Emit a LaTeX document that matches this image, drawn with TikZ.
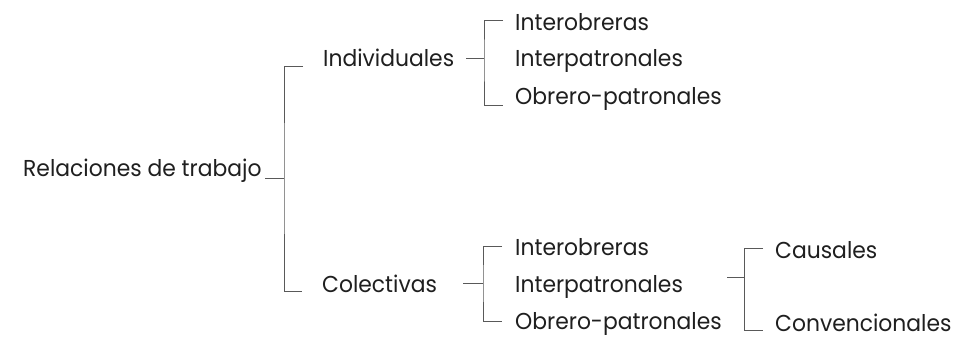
\documentclass[tikz,border=0pt]{standalone}
\usepackage{fontspec}
\setmainfont[FakeStretch=0.95]{Poppins}
\begin{document}
\begin{tikzpicture}[x=1pt,y=-1pt,
  lbl/.style={anchor=base west, inner sep=0pt, font=\fontsize{23}{27}\selectfont, text=black!88},
  brk/.style={draw=black!65, line width=0.9pt}]
\useasboundingbox[fill=white] (0,0) rectangle (965,338);
% labels
\node[lbl] (rel) at (23,176) {Relaciones de trabajo};
\node[lbl] (ind) at (323,66) {Individuales};
\node[lbl] (col) at (322,292) {Colectivas};
\node[lbl] (ia) at (515,30) {Interobreras};
\node[lbl] (ib) at (515,66) {Interpatronales};
\node[lbl] (ic) at (515,104) {Obrero-patronales};
\node[lbl] (ca) at (515,255) {Interobreras};
\node[lbl] (cb) at (515,292) {Interpatronales};
\node[lbl] (cc) at (515,329) {Obrero-patronales};
\node[lbl] (cau) at (775,258) {Causales};
\node[lbl] (con) at (775,331) {Convencionales};
% main bracket
\coordinate (m0) at (265,178);
\coordinate (m1) at (284,178);
\coordinate (mt) at (303,66);
\coordinate (mb) at (302,291);
\draw[brk] (m0) -- (m1);
\draw[brk] (mt) -| (m1) |- (mb);
% individuales bracket
\coordinate (i0) at (466,58);
\coordinate (i1) at (484,58);
\coordinate (it) at (503,20);
\coordinate (ib0) at (503,105);
\draw[brk] (i0) -- (i1);
\draw[brk] (it) -| (i1) |- (ib0);
% colectivas bracket
\coordinate (c0) at (463,283);
\coordinate (c1) at (483,283);
\coordinate (ct) at (502,246);
\coordinate (cb0) at (502,321);
\draw[brk] (c0) -- (c1);
\draw[brk] (ct) -| (c1) |- (cb0);
% causales bracket
\coordinate (k0) at (727,277);
\coordinate (k1) at (744,277);
\coordinate (kt) at (763,248);
\coordinate (kb) at (763,330);
\draw[brk] (k0) -- (k1);
\draw[brk] (kt) -| (k1) |- (kb);
\end{tikzpicture}
\end{document}
